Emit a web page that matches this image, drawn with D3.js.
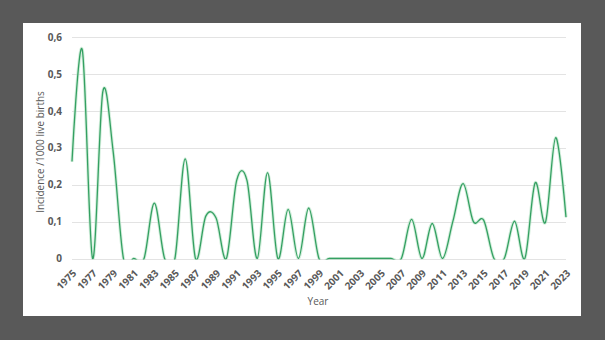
<!DOCTYPE html>
<html>
<head>
<meta charset="utf-8">
<title>Incidence per 1000 live births</title>
<script src="https://d3js.org/d3.v7.min.js"></script>
<style>
  html, body { margin: 0; padding: 0; background: #595959; }
  svg { display: block; }
  .tick-label { font-family: "Open Sans", "DejaVu Sans", sans-serif; font-size: 10px; font-weight: 700; fill: #595959; }
  .axis-title { font-family: "Open Sans", "DejaVu Sans", sans-serif; font-size: 10px; fill: #595959; }
</style>
</head>
<body>
<script>
// yearly incidence, 1975..2023
var years = d3.range(1975, 2024);
var incidence = [
  0.263, 0.566, 0, 0.453, 0.29, 0, 0, 0, 0.15, 0,
  0, 0.27, 0, 0.115, 0.11, 0, 0.212, 0.212, 0, 0.233,
  0, 0.133, 0, 0.137, 0, 0, 0, 0, 0, 0,
  0, 0, 0, 0.106, 0, 0.095, 0, 0.1, 0.203, 0.1,
  0.104, 0, 0, 0.101, 0, 0.205, 0.098, 0.328, 0.112
];
var yTicks = [0, 0.1, 0.2, 0.3, 0.4, 0.5, 0.6];
var xTicks = years.filter(function(y) { return (y - 1975) % 2 === 0; });

var width = 605, height = 340;
var svg = d3.select("body").append("svg")
  .attr("width", width)
  .attr("height", height);

// white chart panel
svg.append("rect")
  .attr("x", 23).attr("y", 23)
  .attr("width", 558).attr("height", 293)
  .attr("fill", "#ffffff");

var x = d3.scalePoint().domain(years).range([72, 566]);
var y = d3.scaleLinear().domain([0, 0.6]).range([258.5, 37.3]);

var fmt = function(d) { return d === 0 ? "0" : d3.format(".1f")(d).replace(".", ","); };

// horizontal gridlines
svg.append("g").selectAll("line")
  .data(yTicks)
  .enter().append("line")
  .attr("x1", 72).attr("x2", 566)
  .attr("y1", function(d) { return Math.round(y(d)) + 0.5; })
  .attr("y2", function(d) { return Math.round(y(d)) + 0.5; })
  .attr("stroke", "#e3e3e3")
  .attr("stroke-width", 1);

// y tick labels
svg.append("g").selectAll("text")
  .data(yTicks)
  .enter().append("text")
  .attr("class", "tick-label")
  .attr("x", 62)
  .attr("y", function(d) { return y(d); })
  .attr("dy", "0.35em")
  .attr("text-anchor", "end")
  .text(fmt);

// x tick labels, rotated
svg.append("g").selectAll("text")
  .data(xTicks)
  .enter().append("text")
  .attr("class", "tick-label")
  .attr("text-anchor", "end")
  .attr("transform", function(d) { return "translate(" + (x(d) + 5) + ",274) rotate(-45)"; })
  .text(function(d) { return d; });

svg.append("text")
  .attr("class", "axis-title")
  .attr("x", 318).attr("y", 305)
  .attr("text-anchor", "middle")
  .text("Year");

svg.append("text")
  .attr("class", "axis-title")
  .attr("transform", "translate(44,152) rotate(-90)")
  .attr("text-anchor", "middle")
  .text("Incidence /1000 live births");

// smoothed line, clipped to the plot area
svg.append("clipPath").attr("id", "plot-clip")
  .append("rect")
  .attr("x", 60).attr("y", 30)
  .attr("width", 520).attr("height", 229.5);

var line = d3.line()
  .x(function(d, i) { return x(years[i]); })
  .y(function(d) { return y(d); })
  .curve(d3.curveCardinal.tension(0));

var plot = svg.append("g").attr("clip-path", "url(#plot-clip)");
plot.append("path")
  .datum(incidence)
  .attr("d", line)
  .attr("fill", "none")
  .attr("stroke", "#b5e2c5")
  .attr("stroke-width", 3.2)
  .attr("stroke-opacity", 0.6);
plot.append("path")
  .datum(incidence)
  .attr("d", line)
  .attr("fill", "none")
  .attr("stroke", "#34a062")
  .attr("stroke-width", 1.3);
</script>
</body>
</html>
